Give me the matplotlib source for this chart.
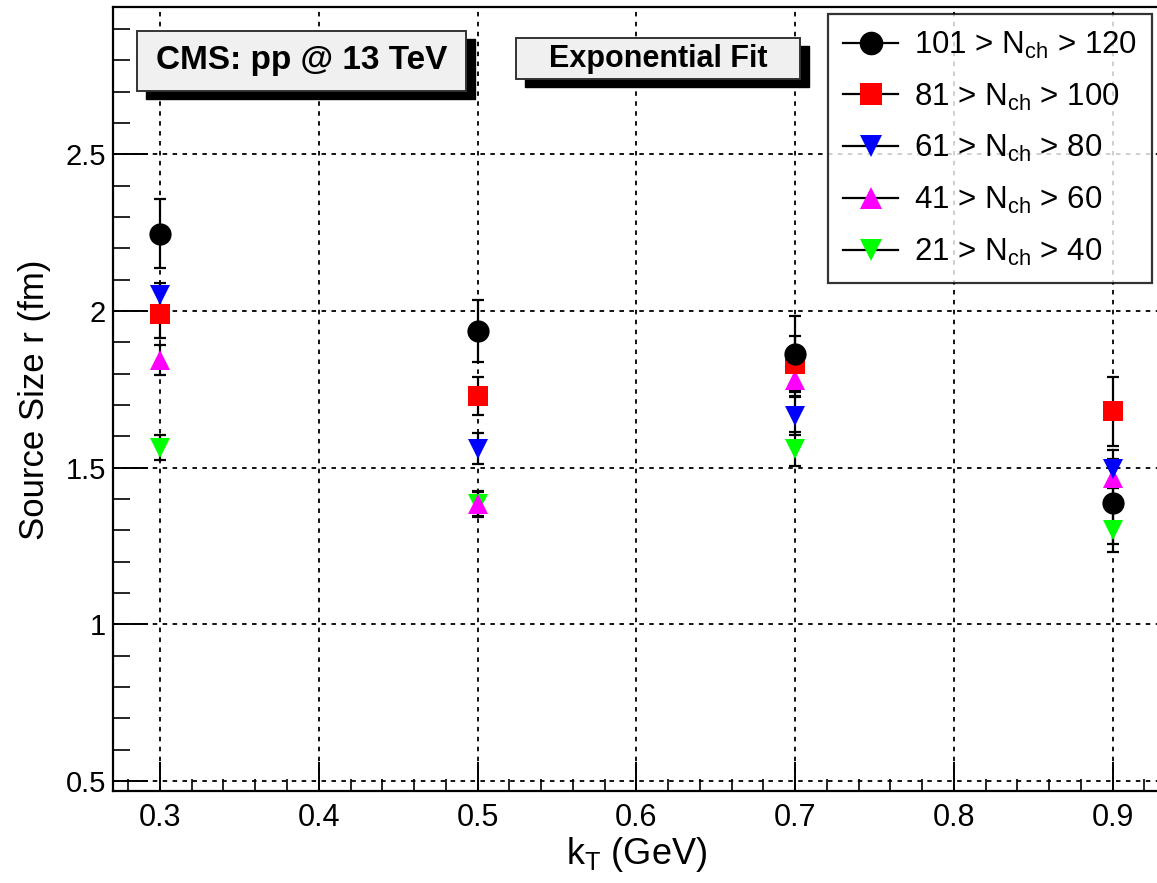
import matplotlib
matplotlib.use("Agg")
import matplotlib.pyplot as plt
from matplotlib.patches import Rectangle
from matplotlib.lines import Line2D
from matplotlib.ticker import MultipleLocator

plt.rcParams['font.family'] = ['Liberation Sans', 'DejaVu Sans']
plt.rcParams['mathtext.fontset'] = 'custom'
plt.rcParams['mathtext.rm'] = 'Liberation Sans'
plt.rcParams['mathtext.it'] = 'Liberation Sans:italic'

# k_T bins (GeV)
kt = [0.3, 0.5, 0.7, 0.9]

# Source size r (fm) and uncertainties for each multiplicity class
r_101_120 = [2.246, 1.936, 1.863, 1.387]
e_101_120 = [0.11, 0.10, 0.12, 0.13]
r_81_100 = [1.990, 1.728, 1.830, 1.680]
e_81_100 = [0.077, 0.06, 0.09, 0.11]
r_61_80 = [2.050, 1.560, 1.665, 1.495]
e_61_80 = [0.04, 0.05, 0.06, 0.06]
r_41_60 = [1.843, 1.383, 1.780, 1.467]
e_41_60 = [0.047, 0.04, 0.05, 0.06]
r_21_40 = [1.563, 1.385, 1.560, 1.300]
e_21_40 = [0.04, 0.04, 0.055, 0.07]

labels = [r'101 > N$_{\rm ch}$ > 120', r'81 > N$_{\rm ch}$ > 100',
          r'61 > N$_{\rm ch}$ > 80', r'41 > N$_{\rm ch}$ > 60',
          r'21 > N$_{\rm ch}$ > 40']
colors = ['black', '#ff0000', '#0000ff', '#ff00ff', '#00ff00']
markers = ['o', 's', 'v', '^', 'v']
sizes = [16, 15, 15, 15, 15]
series = [(r_101_120, e_101_120), (r_81_100, e_81_100), (r_61_80, e_61_80),
          (r_41_60, e_41_60), (r_21_40, e_21_40)]

W, H = 1157, 883
fig = plt.figure(figsize=(W / 100, H / 100), dpi=100)
ax = fig.add_axes([113 / W, (H - 791) / H, (W - 113) / W, (791 - 7) / H])

ax.set_xlim(0.2704, 0.928)
ax.set_ylim(0.468, 2.97)

# draw back-to-front so the first class ends up on top
for i in range(len(series) - 1, -1, -1):
    vals, errs = series[i]
    ax.errorbar(kt, vals, yerr=errs, fmt='none', ecolor='black',
                elinewidth=1.6, capsize=4.5, capthick=1.6, zorder=3)
for i in range(len(series) - 1, -1, -1):
    vals, errs = series[i]
    ax.plot(kt, vals, linestyle='none', marker=markers[i], color=colors[i],
            markersize=sizes[i], markeredgewidth=0, zorder=4)

handles = [Line2D([], [], color='black', linewidth=1.6, marker=markers[i],
                  markerfacecolor=colors[i], markeredgewidth=0,
                  markersize=sizes[i] + 1) for i in range(len(series))]

leg = ax.legend(handles, labels, loc='upper right',
                bbox_to_anchor=(0.9955, 0.991), fontsize=22.5,
                frameon=True, fancybox=False, edgecolor='black',
                handlelength=1.75, handletextpad=0.5, labelspacing=0.66,
                borderpad=0.5, borderaxespad=0.0)
leg.get_frame().set_linewidth(1.6)
leg.set_zorder(6)

# axes styling
ax.xaxis.set_major_locator(MultipleLocator(0.1))
ax.xaxis.set_minor_locator(MultipleLocator(0.02))
ax.yaxis.set_major_locator(MultipleLocator(0.5))
ax.yaxis.set_minor_locator(MultipleLocator(0.1))
ax.tick_params(axis='x', which='major', direction='in', length=21, width=1.4,
               pad=9, labelsize=22)
ax.tick_params(axis='x', which='minor', direction='in', length=9, width=1.2)
ax.tick_params(axis='y', which='major', direction='in', length=25, width=1.4,
               pad=5, labelsize=21)
ax.tick_params(axis='y', which='minor', direction='in', length=12, width=1.2)
ax.xaxis.set_major_formatter(plt.FuncFormatter(lambda v, p: f'{v:g}'))
ax.yaxis.set_major_formatter(plt.FuncFormatter(lambda v, p: f'{v:g}'))

ax.grid(True, which='major', color='black', linestyle=(0, (2.5, 3)),
        linewidth=1.3)
ax.set_axisbelow(True)
for side in ['left', 'bottom', 'top']:
    ax.spines[side].set_linewidth(1.6)
ax.spines['right'].set_visible(False)

fig.text(35 / W, 1 - 400 / H, 'Source Size r (fm)', rotation=90,
         ha='center', va='center', fontsize=25)
fig.text(637 / W, 1 - 855 / H, r'k$_{\rm T}$ (GeV)', ha='center',
         va='center', fontsize=26)


def label_box(x0, y0, x1, y1, text, size):
    shadow = Rectangle((x0 / W + 9 / W, 1 - y1 / H - 8 / H),
                       (x1 - x0) / W, (y1 - y0) / H, transform=fig.transFigure,
                       facecolor='black', edgecolor='black', zorder=7)
    box = Rectangle((x0 / W, 1 - y1 / H), (x1 - x0) / W, (y1 - y0) / H,
                    transform=fig.transFigure, facecolor='#f0f0f0',
                    edgecolor='#333333', linewidth=1.4, zorder=8)
    fig.patches.extend([shadow, box])
    fig.text((x0 + x1) / 2 / W, 1 - (y0 + y1) / 2 / H, text, ha='center',
             va='center', fontsize=size, fontweight='bold', zorder=9)


label_box(137, 31, 466, 91, 'CMS: pp @ 13 TeV', 24)
label_box(516, 38, 800, 79, 'Exponential Fit', 22)

fig.savefig('out.png', dpi=100)
